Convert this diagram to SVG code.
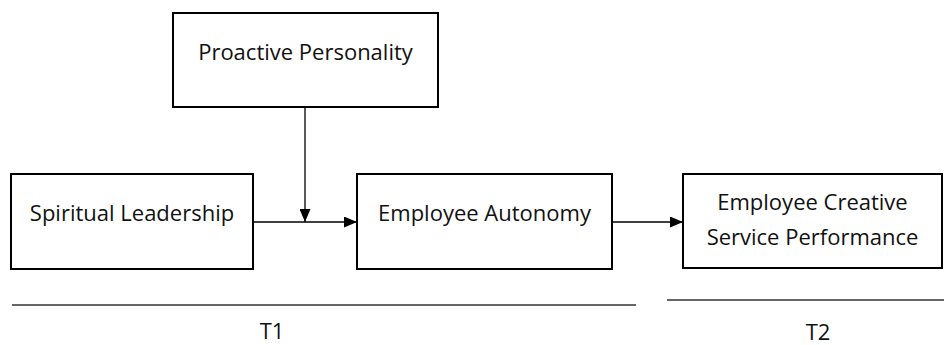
<svg xmlns="http://www.w3.org/2000/svg" width="944" height="345" viewBox="0 0 944 345">
<style>
.box{fill:#fff;stroke:#000;stroke-width:2}
.t{font-family:"Open Sans","Liberation Sans",sans-serif;font-size:22px;fill:#111;text-anchor:middle}
.c{stroke:#000;stroke-width:1.3;fill:none}
.rule{stroke:#333;stroke-width:1.3}
</style>
<defs>
<marker id="ah" viewBox="0 0 13 11" refX="13" refY="5.5" markerWidth="13" markerHeight="11" markerUnits="userSpaceOnUse" orient="auto">
<path d="M0,0 L13,5.5 L0,11 Z" fill="#000"/>
</marker>
</defs>
<g id="proactive"><rect class="box" x="173" y="13" width="265" height="94"/><text class="t" x="305.5" y="60">Proactive Personality</text></g>
<g id="spiritual"><rect class="box" x="11" y="174" width="242" height="95"/><text class="t" x="132" y="221">Spiritual Leadership</text></g>
<g id="autonomy"><rect class="box" x="357" y="174" width="255" height="95"/><text class="t" x="484.5" y="221">Employee Autonomy</text></g>
<g id="ecsp"><rect class="box" x="683" y="174" width="259" height="94"/><text class="t" x="812.5" y="210">Employee Creative</text><text class="t" x="812.5" y="245">Service Performance</text></g>
<g id="connectors">
<line class="c" x1="253" y1="222" x2="357" y2="222" marker-end="url(#ah)"/>
<line class="c" x1="305" y1="107" x2="305" y2="222" marker-end="url(#ah)"/>
<line class="c" x1="612" y1="222" x2="683" y2="222" marker-end="url(#ah)"/>
</g>
<g id="timeline">
<line class="rule" x1="12" y1="305" x2="636" y2="305"/>
<line class="rule" x1="667" y1="300" x2="944" y2="300"/>
<text class="t" x="272" y="339">T1</text>
<text class="t" x="818" y="340">T2</text>
</g>
</svg>
